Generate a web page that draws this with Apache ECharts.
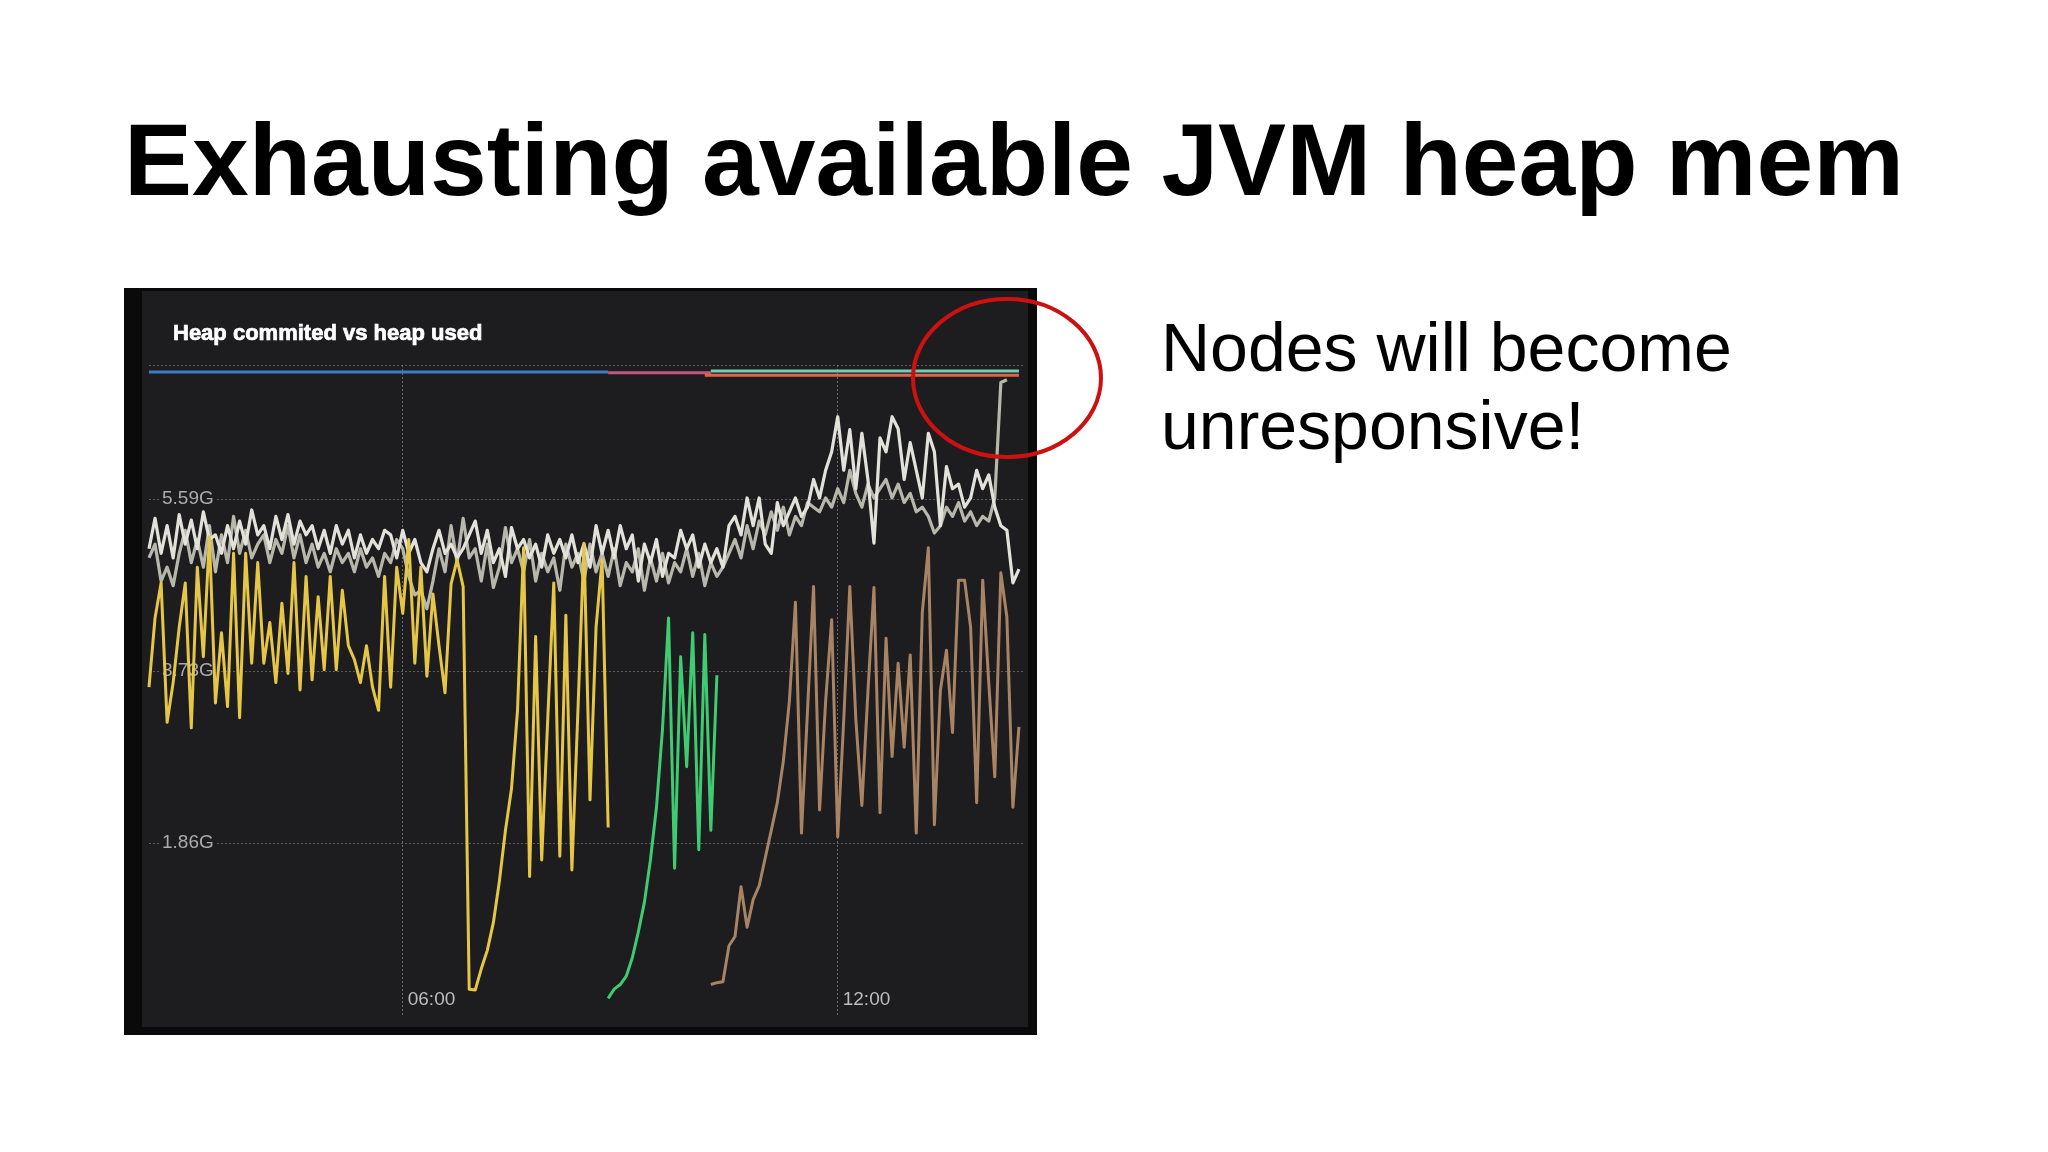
<!DOCTYPE html>
<html>
<head>
<meta charset="utf-8">
<style>
html,body{margin:0;padding:0;background:#ffffff;}
#chart{width:2048px;height:1152px;}
</style>
<script src="https://cdn.jsdelivr.net/npm/echarts@6/dist/echarts.min.js"></script>
</head>
<body>
<div id="chart"></div>
<script>
// ---- x categories: 5-minute samples from 02:30 to 14:35 ----
const times = [];
for (let m = 150; m <= 875; m += 5) {
  const h = Math.floor(m / 60), mm = m % 60;
  times.push(String(h).padStart(2, '0') + ':' + String(mm).padStart(2, '0'));
}
const xTickLabels = ['06:00', '12:00'];
const yTickLabels = ['', '1.86G', '3.73G', '5.59G', ''];
const yTickStep = 1.86264514923; // 2e9 bytes in GiB
const yMax = 7.04;

// ---- heap committed (flat lines, start/end points) ----
const committedBlue  = [['02:30', 6.963], ['08:50', 6.963]];
const committedPink  = [['08:50', 6.955], ['10:15', 6.955]];
const committedTeal  = [['10:15', 6.975], ['14:30', 6.975]];
const committedRed   = [['10:10', 6.93], ['14:30', 6.93]];

// ---- heap used ----
const whiteA = [
  5.05, 5.38, 5.0, 5.3, 4.95, 5.42, 5.1, 5.36, 5.05, 5.45,
  5.15, 5.2, 5.0, 5.3, 5.05, 5.35, 5.1, 5.47, 5.2, 5.3,
  5.05, 5.4, 5.15, 5.42, 5.1, 5.35, 5.2, 5.3, 5.05, 5.25,
  5.0, 5.3, 5.1, 5.25, 4.95, 5.2, 5.0, 5.15, 5.05, 5.25,
  5.2, 4.95, 5.25, 5.0, 5.15, 4.9, 4.8, 5.05, 5.25, 5.0,
  5.1, 4.95, 5.05, 5.2, 5.35, 5.0, 5.25, 4.9, 5.05, 4.75,
  5.28, 5.05, 5.15, 4.95, 5.1, 4.85, 5.2, 5.0, 5.15, 4.95,
  5.2, 4.9, 5.1, 4.85, 5.3, 5.0, 5.25, 4.95, 5.3, 5.05,
  5.2, 4.7, 5.1, 4.9, 5.15, 4.75, 5.0, 4.95, 5.25, 5.05,
  5.2, 4.85, 5.1, 4.9, 5.05, 4.85, 5.3, 5.4, 5.2, 5.6,
  5.3, 5.6, 5.1, 5.0, 5.55, 5.3, 5.45, 5.6, 5.4, 5.5,
  5.8, 5.6, 5.9, 6.1, 6.48, 5.9, 6.34, 5.7, 6.3, 5.8,
  5.11, 6.25, 6.1, 6.48, 6.35, 5.8, 6.2, 5.9, 5.6, 6.3,
  6.1, 5.3, 5.94, 5.7, 5.75, 5.5, 5.6, 5.9, 5.7, 5.85,
  5.5, 5.3, 5.25, 4.68, 4.83
];
const whiteB = [
  4.95, 5.1, 4.7, 4.85, 4.65, 5.0, 5.25, 4.9, 5.15, 4.85,
  5.3, 4.8, 5.2, 4.9, 5.4, 5.0, 5.25, 4.95, 5.1, 5.2,
  4.9, 5.15, 5.0, 5.3, 4.95, 5.2, 4.9, 5.1, 4.85, 5.0,
  4.8, 5.05, 4.9, 5.0, 4.8, 5.05, 4.85, 4.95, 4.75, 5.0,
  4.9, 5.15, 5.05, 4.75, 4.55, 4.6, 4.4, 4.7, 5.05, 4.8,
  5.3, 4.9, 5.38, 4.95, 5.05, 4.7, 5.1, 4.63, 4.85, 5.28,
  4.9, 5.05, 4.8, 5.15, 4.7, 5.0, 4.8, 4.95, 4.6, 5.1,
  4.85, 5.0, 4.7, 5.1, 4.8, 5.0, 4.75, 5.05, 4.65, 4.9,
  4.8, 5.05, 4.6, 4.95, 4.7, 5.0, 4.68, 4.9, 4.8, 5.05,
  4.75, 5.0, 4.65, 4.9, 4.75, 4.85, 5.0, 5.15, 4.95, 5.3,
  5.05, 5.35, 5.2, 5.45, 5.25, 5.5, 5.2, 5.4, 5.3, 5.55,
  5.5, 5.45, 5.6, 5.5, 5.7, 5.55, 5.9, 5.65, 5.5, 5.75,
  5.6, 5.7, 5.8, 5.6, 5.75, 5.55, 5.65, 5.45, 5.5, 5.4,
  5.22, 5.3, 5.5, 5.4, 5.55, 5.35, 5.45, 5.3, 5.4, 5.35,
  5.6, 6.85, 6.88
];
const yellowStart = 0;
const yellow = [
  3.55, 4.3, 4.68, 3.17, 3.6, 4.2, 4.68, 3.11, 4.85, 3.88,
  5.18, 3.38, 4.14, 3.34, 5.0, 3.22, 5.0, 3.81, 4.9, 3.81,
  4.25, 3.6, 4.46, 3.7, 4.9, 3.52, 4.75, 3.63, 4.53, 3.74,
  4.75, 3.74, 4.6, 4.0, 3.85, 3.6, 4.0, 3.55, 3.3, 4.75,
  3.55, 4.85, 4.35, 5.15, 3.81, 4.85, 3.67, 4.56, 4.0, 3.49,
  4.67, 4.93, 4.64, 0.28, 0.27, 0.5, 0.7, 1.0, 1.45, 2.0,
  2.45, 3.3, 5.06, 1.5, 4.1, 1.68, 3.2, 4.68, 1.72, 4.33,
  1.57, 3.3, 5.11, 2.33, 4.2, 4.93, 2.03
];
const greenStart = 76;
const green = [
  0.18, 0.28, 0.33, 0.42, 0.62, 0.9, 1.22, 1.68, 2.25, 3.1,
  4.3, 1.59, 3.88, 2.69, 4.14, 1.79, 4.12, 2.0, 3.68
];
const brownStart = 93;
const brown = [
  0.33, 0.35, 0.36, 0.75, 0.85, 1.39, 0.95, 1.25, 1.4, 1.7,
  2.0, 2.3, 2.75, 3.4, 4.47, 1.97, 3.3, 4.64, 2.22, 3.4,
  4.28, 1.93, 3.2, 4.64, 3.2, 2.27, 3.5, 4.63, 2.19, 4.08,
  2.8, 3.81, 2.9, 3.9, 1.97, 4.36, 5.06, 2.06, 3.52, 3.95,
  3.06, 4.71, 4.71, 4.2, 2.3, 4.71, 3.6, 2.58, 4.79, 4.31,
  2.25, 3.12
];

function span(arr, start) {
  return arr.map((v, k) => [times[start + k], v]);
}

const PANEL = '#1d1d1f';
const FONT = '"Liberation Sans", Arial, Helvetica, sans-serif';

function lineSeries(name, data, color, width, z, connect) {
  return {
    name, type: 'line', data, symbol: 'none', showSymbol: false,
    connectNulls: !!connect, z: z,
    lineStyle: { color, width, join: 'round' }, itemStyle: { color },
    emphasis: { disabled: true }, silent: true
  };
}

const chart = echarts.init(document.getElementById('chart'), null, { renderer: 'canvas' });
chart.setOption({
  animation: false,
  backgroundColor: 'transparent',
  grid: { left: 149, right: 2048 - 1025, top: 365, bottom: 1152 - 1015, containLabel: false },
  xAxis: {
    type: 'category', data: times, boundaryGap: false,
    axisLine: { show: false }, axisTick: { show: false },
    axisLabel: {
      inside: true, margin: 6, align: 'left', padding: [0, 0, 0, 5],
      interval: (i, v) => xTickLabels.includes(v),
      color: '#bdbdbd', fontSize: 19, fontFamily: FONT
    },
    splitLine: {
      show: true, interval: (i, v) => xTickLabels.includes(v),
      lineStyle: { color: '#6a6a6a', type: [2, 2], width: 1 }
    }
  },
  yAxis: {
    type: 'value', min: 0, max: yMax, interval: yTickStep,
    axisLine: { show: false }, axisTick: { show: false },
    splitLine: { show: true, showMinLine: false, showMaxLine: true,
      lineStyle: { color: '#5a5a5a', type: [2, 2], width: 1 } },
    axisLabel: {
      inside: true, margin: 11, color: '#ababab', fontSize: 19, fontFamily: FONT,
      backgroundColor: PANEL, padding: [0, 2],
      formatter: (v, i) => (v > 0.01 && v < 7 ? (yTickLabels[i] || '') : '')
    }
  },
  series: [
    lineSeries('committed A', committedBlue, '#3f7cbf', 3, 3, true),
    lineSeries('committed B', committedPink, '#c2587f', 3, 3, true),
    lineSeries('committed C', committedRed, '#e0644c', 3, 3, true),
    lineSeries('committed D', committedTeal, '#73cdb0', 3, 4, true),
    lineSeries('used D', span(whiteB, 0), '#b8b7ab', 3.2, 5),
    lineSeries('used C', span(whiteA, 0), '#e2e2da', 3.2, 6),
    lineSeries('used A', span(yellow, yellowStart), '#e6c647', 3, 7),
    lineSeries('used B', span(green, greenStart), '#3fcb72', 3, 7),
    lineSeries('used E', span(brown, brownStart), '#a88364', 3, 7)
  ],
  graphic: [
    { type: 'rect', z: -20, silent: true, shape: { x: 124, y: 288, width: 913, height: 747 }, style: { fill: '#0a0a0a' } },
    { type: 'rect', z: -19, silent: true, shape: { x: 142, y: 291, width: 886, height: 736 }, style: { fill: PANEL } },
    { type: 'text', z: 50, silent: true, style: { text: 'Heap commited vs heap used', x: 173, y: 334, fill: '#ffffff',
        stroke: '#ffffff', lineWidth: 0.7,
        font: 'bold 22px ' + FONT, align: 'left', verticalAlign: 'middle' } },
    { type: 'text', z: 50, silent: true, style: { text: 'Exhausting available JVM heap mem', x: 124, y: 167, fill: '#000000',
        font: 'bold 102px ' + FONT, align: 'left', verticalAlign: 'middle' } },
    { type: 'text', z: 50, silent: true, style: { text: 'Nodes will become', x: 1161, y: 352, fill: '#000000',
        font: '68px ' + FONT, align: 'left', verticalAlign: 'middle' } },
    { type: 'text', z: 50, silent: true, style: { text: 'unresponsive!', x: 1161, y: 430, fill: '#000000',
        font: '68px ' + FONT, align: 'left', verticalAlign: 'middle' } },
    { type: 'ellipse', z: 100, silent: true, shape: { cx: 1007, cy: 378, rx: 94, ry: 79 },
      style: { fill: 'none', stroke: '#cc1111', lineWidth: 4 } }
  ]
});
</script>
</body>
</html>
